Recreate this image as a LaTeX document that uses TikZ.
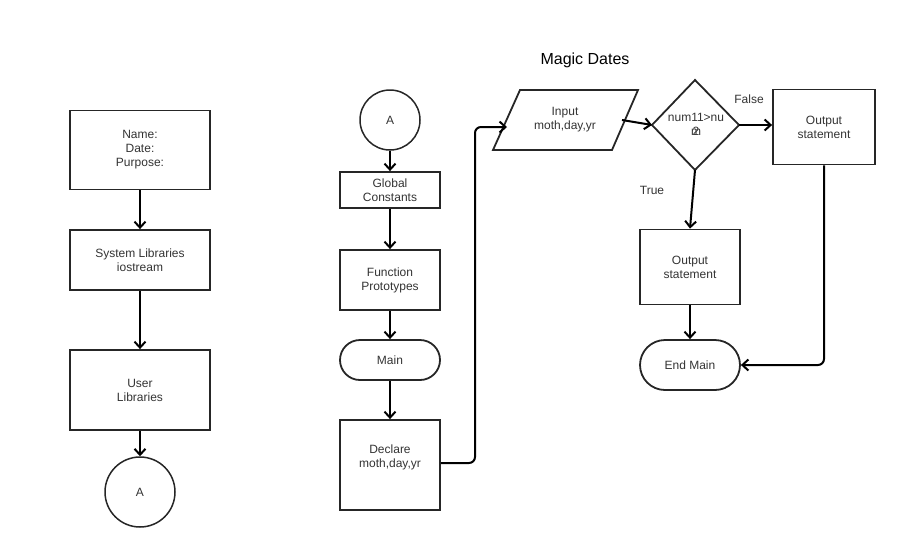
\documentclass[tikz,border=0pt]{standalone}
\usepackage{fontspec}
\setmainfont{Liberation Sans}
\usetikzlibrary{arrows.meta,shapes.geometric,calc}
\begin{document}
\begin{tikzpicture}[x=1pt,y=-1pt,
  every node/.style={font=\fontsize{12}{14}\selectfont, text=black!80, align=center},
  box/.style={draw=black!85, line width=1.8pt, minimum width=#1, align=center, inner sep=0pt},
  term/.style={draw=black!85, line width=1.8pt, rounded corners=20pt, align=center, inner sep=0pt},
  circ/.style={draw=black!85, line width=1.5pt, circle, inner sep=0pt},
  conn/.style={draw=black, line width=2pt, -{Straight Barb[length=6pt,width=11pt,line width=2pt]}, rounded corners=6pt},
  lbl/.style={font=\fontsize{12}{14}\selectfont}
]
\useasboundingbox (0,0) rectangle (900,550);
% title
\node[font=\fontsize{16}{19}\selectfont, text=black] (title) at (585,60) {Magic Dates};
% column 1
\node[box=140pt, minimum height=79pt] (n1) at (140,150) {Name:\\Date:\\Purpose:};
\node[box=140pt, minimum height=60pt] (n2) at (140,260) {System Libraries\\iostream};
\node[box=140pt, minimum height=80pt] (n3) at (140,390) {User\\Libraries};
\node[circ, minimum size=70pt] (a1) at (140,492) {A};
\draw[conn] (n1) -- (n2);
\draw[conn] (n2) -- (n3);
\draw[conn] (n3) -- (a1);
% column 2
\node[circ, minimum size=60pt] (a2) at (390,120) {A};
\node[box=100pt, minimum height=36pt] (gc) at (390,190) {Global\\Constants};
\node[box=100pt, minimum height=60pt] (fp) at (390,280) {Function\\Prototypes};
\node[term, minimum width=100pt, minimum height=40pt] (mn) at (390,360) {Main};
\node[box=100pt, minimum height=90pt] (dc) at (390,465) {Declare\\moth,day,yr\\[4pt]};
\draw[conn] (a2) -- (gc);
\draw[conn] (gc) -- (fp);
\draw[conn] (fp) -- (mn);
\draw[conn] (mn) -- (dc);
% input parallelogram
\coordinate (p1) at (520,90);
\coordinate (p2) at (638,90);
\coordinate (p3) at (612,150);
\coordinate (p4) at (493,150);
\draw[line width=1.8pt, draw=black!85] (p1) -- (p2) -- (p3) -- (p4) -- cycle;
\node (in) at (565,120) {Input\\moth,day,yr};
\coordinate (inL) at (507,127);
\coordinate (inR) at (622,120);
\draw[conn] (dc.east |- 0,463) -- (475,463) -- (475,127) -- (inL);
% decision
\coordinate (dT) at (695,80);
\coordinate (dR) at (739,125);
\coordinate (dB) at (695,170);
\coordinate (dL) at (652,125);
\draw[line width=1.8pt, draw=black!85] (dT) -- (dR) -- (dB) -- (dL) -- cycle;
\node (dec) at (696,124) {num11>nu\\\makebox[0pt]{2}\makebox[0pt]{m}};
\draw[conn] (inR) -- (dL);
% outputs
\node[box=102pt, minimum height=75pt] (o1) at (824,127) {Output\\statement};
\node[box=100pt, minimum height=75pt] (o2) at (690,267) {Output\\statement};
\node[term, minimum width=100pt, minimum height=50pt, rounded corners=25pt] (em) at (690,365) {End Main};
\draw[conn] (dR) -- (o1.west |- dR);
\draw[conn] (dB) -- (o2.north);
\draw[conn] (o2) -- (em);
\draw[conn] (o1.south) -- (824,365) -- (em.east);
\node[lbl] (fl) at (749,99) {False};
\node[lbl] (tl) at (652,190) {True};
\end{tikzpicture}
\end{document}
